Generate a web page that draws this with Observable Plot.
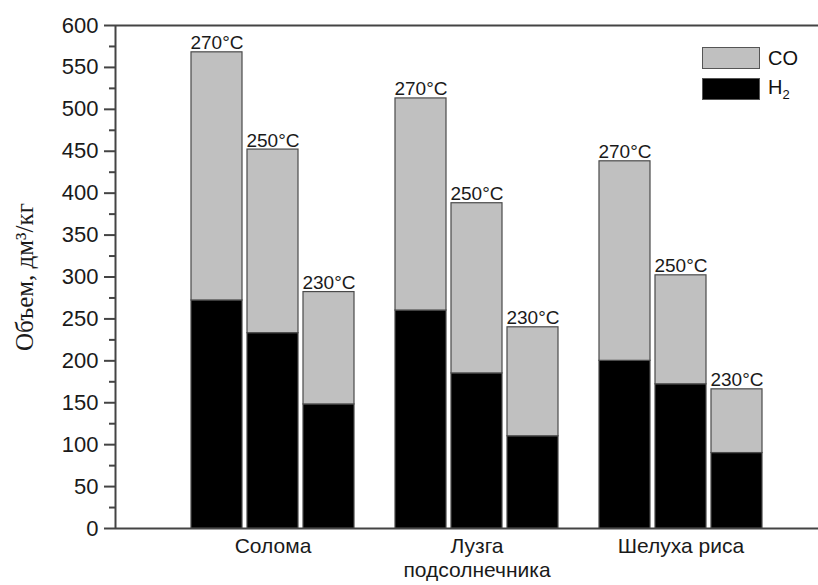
<!DOCTYPE html>
<html>
<head>
<meta charset="utf-8">
<script src="https://cdn.jsdelivr.net/npm/d3@7"></script>
<script src="https://cdn.jsdelivr.net/npm/@observablehq/plot@0.6"></script>
<style>
  html, body { margin: 0; padding: 0; background: #fff; }
  #chart { position: relative; width: 818px; height: 585px; font-family: "Liberation Sans", Arial, sans-serif; }
  #chart svg { position: absolute; left: 0; top: 0; }
  .legend { position: absolute; left: 702px; top: 47px; font-size: 20px; color: #111; }
  .legend .row { display: flex; align-items: center; height: 22px; margin-bottom: 9px; }
  .legend .sw { width: 56px; height: 20px; border: 1px solid #555; margin-right: 8px; }
  .legend sub { font-size: 13px; vertical-align: -5px; }
</style>
</head>
<body>
<div id="chart"></div>
<script>
// --- data ---
const materials = ["Солома", "Лузга\nподсолнечника", "Шелуха риса"];
const temps = [270, 250, 230];
// H2 volume (dm3/kg), per material, per temperature (270, 250, 230)
const h2Values = [
  [272, 233, 148],
  [260, 185, 110],
  [200, 172, 90]
];
// CO volume (dm3/kg)
const coValues = [
  [296, 219, 134],
  [253, 203, 130],
  [238, 130, 76]
];
const gases = ["CO", "H2"];
const gasColors = ["#c0c0c0", "#000000"];
const yTicks = [0, 50, 100, 150, 200, 250, 300, 350, 400, 450, 500, 550, 600];
const yMinorTicks = [25, 75, 125, 175, 225, 275, 325, 375, 425, 475, 525, 575];
const yLabel = "Объем, дм³/кг";

// --- tables built from the arrays ---
const rows = [];
const totals = [];
materials.forEach((m, i) => {
  temps.forEach((t, j) => {
    rows.push({material: m, temp: t, gas: "H2", value: h2Values[i][j]});
    rows.push({material: m, temp: t, gas: "CO", value: coValues[i][j]});
    totals.push({material: m, temp: t, total: h2Values[i][j] + coValues[i][j]});
  });
});

const W = 818, H = 585;
const margins = {marginLeft: 115, marginRight: 0, marginTop: 25, marginBottom: 57};
const baseStyle = {background: "transparent", fontFamily: "Liberation Sans, Arial, sans-serif", color: "#111", overflow: "visible"};

// Layer A: axes and frame lines
const axes = Plot.plot({
  width: W, height: H, ...margins,
  style: baseStyle,
  x: {domain: [0, 1], axis: null},
  y: {domain: [0, 600], axis: null},
  marks: [
    Plot.ruleY([0, 600], {stroke: "#444", strokeWidth: 2}),
    Plot.ruleX([0], {stroke: "#444", strokeWidth: 2}),
    Plot.axisY({ticks: yTicks, tickSize: 11, tickPadding: 6, fontSize: 22, stroke: "#444", strokeWidth: 2, fill: "#1a1a1a", label: null}),
    Plot.axisY({ticks: yMinorTicks, tickSize: 6, text: null, stroke: "#444", strokeWidth: 2, label: null}),
    Plot.axisY({ticks: [], label: yLabel, labelAnchor: "center", labelArrow: "none", labelOffset: 100, fontSize: 25, fontFamily: "Liberation Serif, Times New Roman, serif", fill: "#1a1a1a"})
  ]
});

// Layer B: faceted bars
const bars = Plot.plot({
  width: W, height: H, ...margins,
  style: baseStyle,
  fx: {domain: materials, paddingInner: 0.2, paddingOuter: 0.323, align: 0.577, axis: null, label: null},
  x: {domain: temps, paddingInner: 0.09, paddingOuter: 0, axis: null},
  y: {domain: [0, 600], axis: null},
  color: {domain: gases, range: gasColors},
  marks: [
    Plot.barY(rows, Plot.stackY({fx: "material", x: "temp", y: "value", fill: "gas", stroke: "#4a4a4a", strokeWidth: 1.2})),
    Plot.text(totals, {fx: "material", x: "temp", y: "total", text: d => d.temp + "°C", lineAnchor: "bottom", dy: -3, fontSize: 19, fill: "#1a1a1a"}),
    Plot.axisFx({anchor: "bottom", tickSize: 0, tickPadding: 7, fontSize: 21, lineHeight: 1.15, label: null, fill: "#1a1a1a"})
  ]
});

const chart = document.getElementById("chart");
chart.appendChild(axes);
chart.appendChild(bars);

// in-plot legend (HTML)
const legend = document.createElement("div");
legend.className = "legend";
gases.forEach((g, i) => {
  const row = document.createElement("div");
  row.className = "row";
  const sw = document.createElement("div");
  sw.className = "sw";
  sw.style.background = gasColors[i];
  const lab = document.createElement("span");
  lab.innerHTML = g === "H2" ? "H<sub>2</sub>" : g;
  row.appendChild(sw);
  row.appendChild(lab);
  legend.appendChild(row);
});
chart.appendChild(legend);
</script>
</body>
</html>
